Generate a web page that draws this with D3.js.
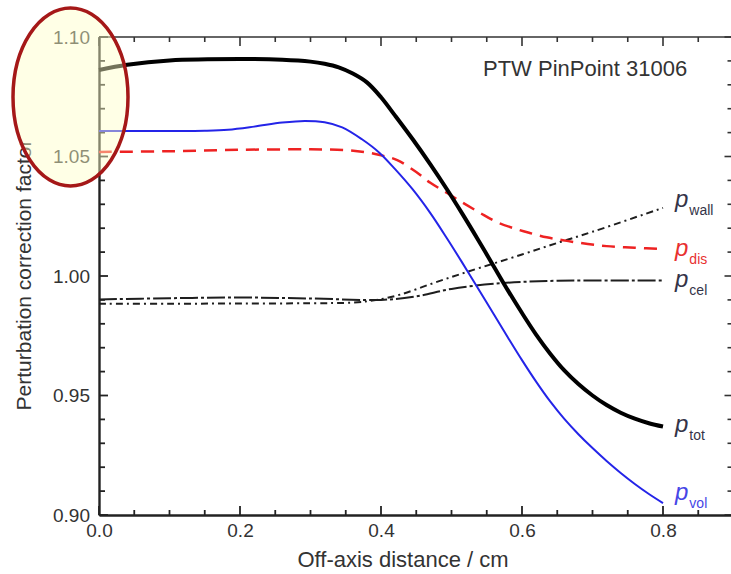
<!DOCTYPE html>
<html><head><meta charset="utf-8">
<script src="https://cdn.jsdelivr.net/npm/d3@7"></script>
<style>html,body{margin:0;padding:0;background:#fff;overflow:hidden}</style>
</head><body>
<svg id="c" width="731" height="574"></svg>
<script>
// ---- data ----
const xTot = [0,0.04,0.1,0.2,0.26,0.3,0.32,0.34,0.36,0.38,0.4,0.42,0.445,0.47,0.493,0.515,0.537,0.56,0.58,0.6,0.62,0.64,0.66,0.68,0.7,0.72,0.74,0.76,0.78,0.8];
const pTot = [1.0862,1.0884,1.0902,1.0908,1.0905,1.0897,1.0888,1.0873,1.0847,1.081,1.0748,1.0671,1.0572,1.0467,1.0365,1.0262,1.0155,1.004,0.994,0.9845,0.9755,0.9675,0.9605,0.9548,0.95,0.946,0.9428,0.9403,0.9384,0.937];
const xVol = [0,0.1,0.15,0.183,0.22,0.26,0.292,0.32,0.345,0.373,0.398,0.42,0.445,0.47,0.493,0.515,0.536,0.56,0.58,0.6,0.62,0.64,0.66,0.68,0.7,0.72,0.74,0.76,0.78,0.8];
const pVol = [1.0607,1.0607,1.0608,1.0612,1.0625,1.0642,1.0649,1.0643,1.0622,1.0572,1.0515,1.0447,1.0362,1.0263,1.016,1.0057,0.9956,0.984,0.9743,0.9648,0.9558,0.9475,0.9402,0.9338,0.928,0.9226,0.9176,0.913,0.9088,0.905];
const xDis = [0,0.1,0.2,0.3,0.35,0.38,0.4,0.423,0.45,0.47,0.495,0.517,0.54,0.564,0.59,0.611,0.635,0.658,0.683,0.72,0.76,0.8];
const pDis = [1.0519,1.0522,1.0528,1.053,1.0527,1.0517,1.0505,1.0485,1.0435,1.039,1.0345,1.0305,1.0265,1.0226,1.0198,1.018,1.0162,1.015,1.0138,1.0125,1.0118,1.0113];
const xWall = [0,0.1,0.2,0.3,0.36,0.39,0.427,0.474,0.522,0.6,0.654,0.7,0.8];
const pWall = [0.9884,0.9884,0.9885,0.9886,0.9889,0.9898,0.9922,0.997,1.0017,1.009,1.0142,1.0185,1.0285];
const xCel = [0,0.1,0.2,0.3,0.4,0.45,0.5,0.57,0.65,0.8];
const pCel = [0.9902,0.9907,0.991,0.9906,0.99,0.9915,0.9946,0.997,0.998,0.9981];
const xTicks = [0.0,0.2,0.4,0.6,0.8];
const yTicks = [0.90,0.95,1.00,1.05,1.10];
const seriesNames = ["wall","dis","cel","tot","vol"];
const title = "PTW PinPoint 31006";
const xLabel = "Off-axis distance / cm";
const yLabel = "Perturbation correction factor";

// ---- layout ----
const svg = d3.select("#c");
const x = d3.scaleLinear().domain([0,0.9]).range([99,733.5]);
const y = d3.scaleLinear().domain([0.9,1.1]).range([515,37]);
const txt = "#333";
const font = "Liberation Sans, Arial, sans-serif";

svg.append("line").attr("x1",x(0)).attr("x2",x(0.9)).attr("y1",y(1.1)).attr("y2",y(1.1)).attr("stroke","#333").attr("stroke-width",1.6);
svg.append("line").attr("x1",x(0.9)).attr("x2",x(0.9)).attr("y1",y(1.1)).attr("y2",y(0.9)).attr("stroke","#333").attr("stroke-width",1.6);

const xMinor = d3.range(0,0.9001,0.05);
const yMinor = d3.range(0.9,1.1001,0.01);
const isMajorX = v => Math.abs(v/0.2 - Math.round(v/0.2))<1e-6;
const isMajorY = v => Math.abs(v/0.05 - Math.round(v/0.05))<1e-6;

xMinor.forEach(v=>{
  const L = isMajorX(v)?9:5;
  svg.append("line").attr("x1",x(v)).attr("x2",x(v)).attr("y1",y(0.9)).attr("y2",y(0.9)-L).attr("stroke","#222").attr("stroke-width",1.8);
  svg.append("line").attr("x1",x(v)).attr("x2",x(v)).attr("y1",y(1.1)).attr("y2",y(1.1)+L).attr("stroke","#333").attr("stroke-width",1.6);
});
yMinor.forEach(v=>{
  const L = isMajorY(v)?9:6;
  svg.append("line").attr("x1",x(0)).attr("x2",x(0)+L).attr("y1",y(v)).attr("y2",y(v)).attr("stroke","#222").attr("stroke-width",1.8);
  svg.append("line").attr("x1",x(0.9)).attr("x2",x(0.9)-L).attr("y1",y(v)).attr("y2",y(v)).attr("stroke","#333").attr("stroke-width",1.6);
});

const gx = svg.append("g").attr("transform",`translate(0,${y(0.9)})`)
  .call(d3.axisBottom(x).tickValues(xTicks).tickSize(0).tickPadding(9).tickFormat(d3.format(".1f")));
gx.select(".domain").attr("stroke","#222").attr("stroke-width",2.4);
gx.selectAll("text").attr("font-family",font).attr("font-size",19).attr("fill",txt);

const gy = svg.append("g").attr("transform",`translate(${x(0)},0)`)
  .call(d3.axisLeft(y).tickValues(yTicks).tickSize(0).tickPadding(9).tickFormat(d3.format(".2f")));
gy.select(".domain").attr("stroke","#222").attr("stroke-width",2.4);
gy.selectAll("text").attr("font-family",font).attr("font-size",19).attr("fill",txt);

function draw(xs, ys, stroke, width, dash){
  const data = xs.map((d,i)=>[d,ys[i]]);
  const line = d3.line().x(d=>x(d[0])).y(d=>y(d[1])).curve(d3.curveCatmullRom.alpha(0.5));
  svg.append("path").datum(data).attr("d",line).attr("fill","none")
    .attr("stroke",stroke).attr("stroke-width",width)
    .attr("stroke-dasharray",dash||null).attr("stroke-linecap","butt");
}
draw(xCel,pCel,"#1e1e1e",2,"18,3,3,3");
draw(xWall,pWall,"#1e1e1e",2,"7,4,2,4");
draw(xDis,pDis,"#ee2222",2.5,"13,8");
draw(xVol,pVol,"#2424e8",2);
draw(xTot,pTot,"#000",4);

const labels = [
  {name:seriesNames[0], base:207, color:"#343448"},
  {name:seriesNames[1], base:256, color:"#e83030"},
  {name:seriesNames[2], base:287, color:"#343448"},
  {name:seriesNames[3], base:432, color:"#343448"},
  {name:seriesNames[4], base:500, color:"#4646e6"}
];
labels.forEach(l=>{
  const t = svg.append("text").attr("x",675).attr("y",l.base).attr("font-family",font).attr("fill",l.color);
  t.append("tspan").attr("font-style","italic").attr("font-size",24).text("p");
  t.append("tspan").attr("font-size",14).attr("dy",8).attr("dx",1).text(l.name);
});

svg.append("text").attr("x",483).attr("y",76).attr("font-family",font).attr("font-size",22).attr("fill",txt).text(title);
svg.append("text").attr("x",403).attr("y",567).attr("text-anchor","middle").attr("font-family",font).attr("font-size",22).attr("fill",txt).text(xLabel);
svg.append("text").attr("transform","translate(31,275) rotate(-90)").attr("text-anchor","middle").attr("font-family",font).attr("font-size",21).attr("fill",txt).text(yLabel);

svg.append("ellipse").attr("cx",70.5).attr("cy",97).attr("rx",57.5).attr("ry",89)
  .attr("fill","rgb(255,255,200)").attr("fill-opacity",0.45)
  .attr("stroke","#a51818").attr("stroke-width",3.5);
</script>
</body></html>
